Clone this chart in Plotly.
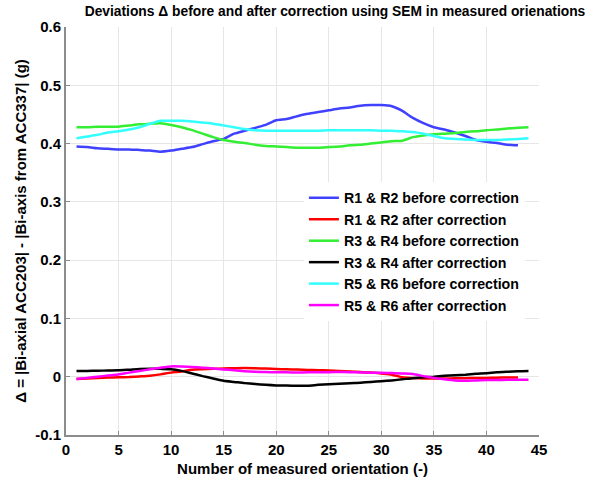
import plotly.graph_objects as go

x_44 = list(range(1, 45))
x_43 = list(range(1, 44))

y_tick_vals = [-0.1, 0, 0.1, 0.2, 0.3, 0.4, 0.5, 0.6]
y_tick_text = ["-0.1", "0", "0.1", "0.2", "0.3", "0.4", "0.5", "0.6"]

r12_before = [0.395,0.394,0.392,0.391,0.390,0.390,0.389,0.388,0.386,0.388,0.391,0.394,0.399,0.404,0.408,0.417,0.422,0.427,0.432,0.440,0.442,0.447,0.451,0.454,0.457,0.460,0.462,0.465,0.466,0.466,0.464,0.456,0.444,0.435,0.428,0.424,0.419,0.413,0.406,0.403,0.401,0.398,0.397]
r12_after = [-0.004,-0.003,-0.002,-0.0015,-0.001,-0.0005,0.0005,0.0017,0.004,0.007,0.009,0.012,0.0128,0.0135,0.0142,0.0146,0.0149,0.0145,0.014,0.0132,0.0127,0.0122,0.0117,0.0112,0.0107,0.0098,0.009,0.008,0.0072,0.0055,0.0035,-0.001,-0.0022,-0.003,-0.003,-0.003,-0.0027,-0.0025,-0.0023,-0.002,-0.0016,-0.0014,-0.0012]
r34_before = [0.428,0.428,0.429,0.429,0.429,0.431,0.433,0.434,0.435,0.432,0.428,0.423,0.417,0.411,0.406,0.403,0.401,0.398,0.396,0.395,0.394,0.393,0.393,0.393,0.394,0.395,0.397,0.398,0.400,0.402,0.404,0.405,0.411,0.414,0.416,0.417,0.418,0.420,0.421,0.423,0.424,0.426,0.427,0.428]
r34_after = [0.0097,0.010,0.0103,0.0106,0.0109,0.012,0.0132,0.0137,0.0135,0.013,0.0100,0.0055,0.001,-0.003,-0.007,-0.009,-0.011,-0.0125,-0.014,-0.015,-0.0152,-0.0154,-0.0154,-0.014,-0.013,-0.012,-0.011,-0.0103,-0.009,-0.0077,-0.0063,-0.0045,-0.0025,-0.001,0.000,0.0015,0.0025,0.0035,0.005,0.006,0.0075,0.0085,0.0093,0.0097]
r56_before = [0.409,0.412,0.415,0.419,0.421,0.424,0.428,0.434,0.439,0.439,0.439,0.438,0.436,0.434,0.431,0.428,0.425,0.423,0.422,0.422,0.422,0.422,0.422,0.422,0.423,0.423,0.423,0.423,0.423,0.422,0.422,0.421,0.420,0.417,0.413,0.409,0.408,0.407,0.406,0.406,0.406,0.407,0.408,0.409]
r56_after = [-0.004,-0.002,0.000,0.002,0.0038,0.007,0.0098,0.0128,0.0155,0.0177,0.0175,0.0168,0.0155,0.014,0.0125,0.011,0.0095,0.0085,0.008,0.0077,0.0075,0.0074,0.0075,0.0077,0.0078,0.008,0.0078,0.0074,0.007,0.0066,0.0063,0.0055,0.0046,0.001,-0.002,-0.0045,-0.0065,-0.0068,-0.0063,-0.0058,-0.0056,-0.0054,-0.0053,-0.0052]

series = [
    ("R1 & R2 before correction", x_43, r12_before, "#4040ff"),
    ("R1 & R2 after correction", x_43, r12_after, "#ff0000"),
    ("R3 & R4 before correction", x_44, r34_before, "#33ee33"),
    ("R3 & R4 after correction", x_44, r34_after, "#000000"),
    ("R5 & R6 before correction", x_44, r56_before, "#33ffff"),
    ("R5 & R6 after correction", x_44, r56_after, "#ff00ff"),
]

fig = go.Figure()
for name, xs, ys, col in series:
    fig.add_trace(go.Scatter(x=xs, y=ys, mode="lines", name=name,
                             line=dict(color=col, width=2.5, shape="spline", smoothing=0.6)))

ff = "Liberation Sans, Arial, sans-serif"
bold = lambda s: dict(family=ff, size=s, color="black", weight="bold")

fig.update_layout(
    width=591, height=479,
    margin=dict(l=66, r=52, t=27, b=44),
    paper_bgcolor="white", plot_bgcolor="white",
    font=bold(14),
    title=dict(text="Deviations \u0394 before and after correction using SEM in measured orienations",
               xref="container", x=335/591, xanchor="center",
               yref="container", y=1 - 11.5/479, yanchor="middle",
               font=bold(13.8)),
    showlegend=True,
    legend=dict(x=0.503, y=0.620, xanchor="left", yanchor="top",
                bgcolor="white", borderwidth=0,
                font=bold(14.2), tracegroupgap=0),
    xaxis=dict(range=[0, 45], dtick=5, tick0=0, showgrid=True, gridcolor="#e6e6e6", gridwidth=1,
               zeroline=False, showline=True, linecolor="#8c8c8c", linewidth=2,
               ticks="inside", ticklen=4, tickcolor="#8c8c8c", automargin=False,
               tickfont=bold(15),
               title=dict(text="Number of measured orientation (-)", standoff=6, font=bold(15))),
    yaxis=dict(range=[-0.1, 0.6], tickvals=y_tick_vals, ticktext=y_tick_text,
               showgrid=True, gridcolor="#e6e6e6", gridwidth=1, automargin=False,
               zeroline=False, showline=True, linecolor="#8c8c8c", linewidth=2,
               ticks="inside", ticklen=4, tickcolor="#8c8c8c",
               tickfont=bold(15),
               title=dict(text="\u0394 = |Bi-axial ACC203| - |Bi-axis from ACC337| (g)", standoff=5,
                          font=bold(15))),
)
fig.write_html("out.html")
